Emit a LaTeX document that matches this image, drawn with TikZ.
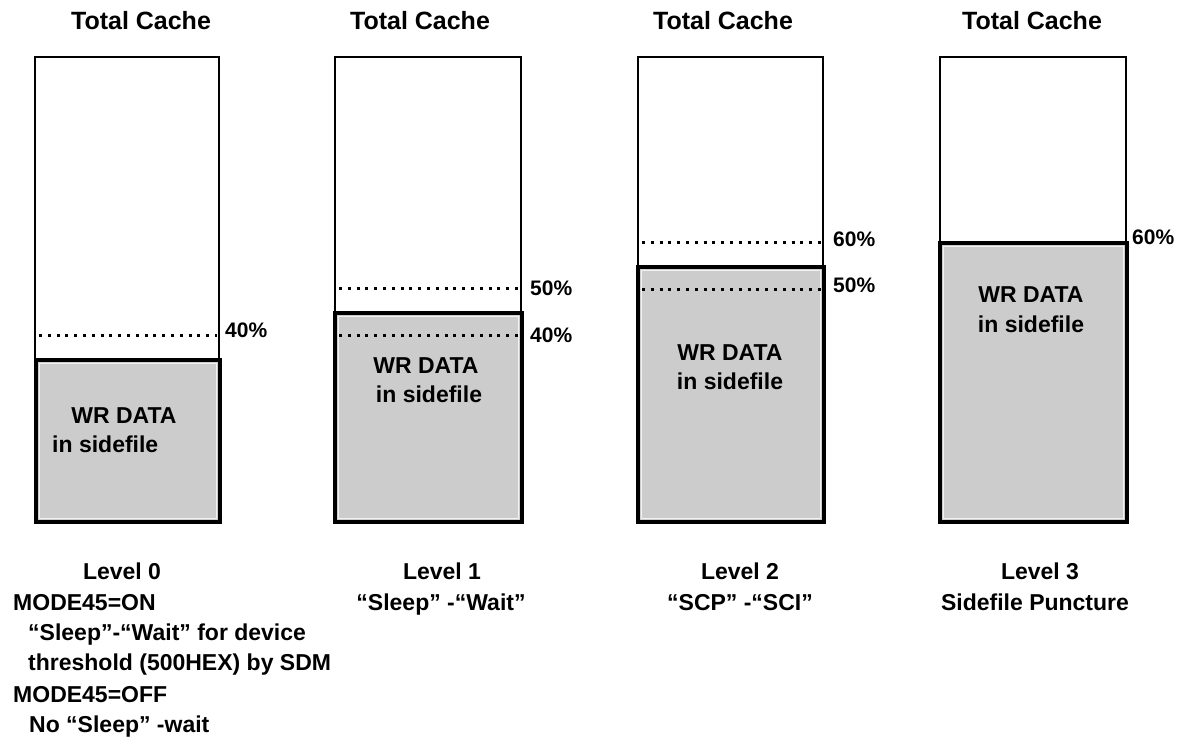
\documentclass[tikz,border=0pt]{standalone}
\usepackage{fontspec}
\setmainfont{Liberation Sans}
\begin{document}
\begin{tikzpicture}[x=1pt,y=-1pt,
  txt/.style={font=\fontsize{23}{27}\selectfont\bfseries, inner sep=0pt, anchor=base},
  ttl/.style={font=\fontsize{25}{29}\selectfont\bfseries, inner sep=0pt, anchor=base},
  lft/.style={txt, anchor=base west},
  pct/.style={font=\fontsize{21}{25}\selectfont\bfseries, inner sep=0pt, anchor=base west},
  cachebox/.style={draw=black, line width=2pt, fill=white},
  sidefile/.style={draw=black, line width=4.5pt, fill=black!20},
  hilite/.style={draw=black!5, line width=0.8pt},
  limit/.style={draw=black, line width=3pt, dash pattern=on 3pt off 5.8pt}]
\useasboundingbox (0,0) rectangle (1184,738);

% ---- Level 0 ----
\draw[cachebox] (35,57) rectangle (219,360);
\draw[sidefile] (36,360) rectangle (220,522);
\draw[hilite] (39.5,363.5) rectangle (216.5,518.5);
\draw[limit] (39,335) -- (217,335);
\node[ttl] (t0) at (141,30) {Total Cache};
\node[pct] (p0a) at (225,337) {40\%};
\node[txt] (w0) at (124,423) {WR DATA};
\node[lft] (s0) at (52,452) {in sidefile};
\node[txt] (l0) at (122,579) {Level 0};
\node[lft] (m0a) at (13,610) {MODE45=ON};
\node[lft] (m0b) at (28,640) {“Sleep”-“Wait” for device};
\node[lft] (m0c) at (28,670) {threshold (500HEX) by SDM};
\node[lft] (m0d) at (13,702) {MODE45=OFF};
\node[lft] (m0e) at (29,732) {No “Sleep” -wait};

% ---- Level 1 ----
\draw[cachebox] (335,57) rectangle (521,313);
\draw[sidefile] (335,313) rectangle (522,522);
\draw[hilite] (338.5,316.5) rectangle (518.5,518.5);
\draw[limit] (339,289) -- (519,289);
\draw[limit] (339,335) -- (519,335);
\node[ttl] (t1) at (420,30) {Total Cache};
\node[pct] (p1a) at (530,295) {50\%};
\node[pct] (p1b) at (530,342) {40\%};
\node[txt] (w1) at (426,373) {WR DATA};
\node[txt] (s1) at (429,402) {in sidefile};
\node[txt] (l1) at (442,579) {Level 1};
\node[txt] (c1) at (441,610) {“Sleep” -“Wait”};

% ---- Level 2 ----
\draw[cachebox] (638,57) rectangle (823,267);
\draw[sidefile] (638,267) rectangle (824,522);
\draw[hilite] (641.5,270.5) rectangle (820.5,518.5);
\draw[limit] (642,243) -- (821,243);
\draw[limit] (642,290) -- (821,290);
\node[ttl] (t2) at (723,30) {Total Cache};
\node[pct] (p2a) at (833,247) {60\%};
\node[pct] (p2b) at (833,293) {50\%};
\node[txt] (w2) at (730,360) {WR DATA};
\node[txt] (s2) at (730,389) {in sidefile};
\node[txt] (l2) at (740,579) {Level 2};
\node[txt] (c2) at (740,610) {“SCP” -“SCI”};

% ---- Level 3 ----
\draw[cachebox] (940,57) rectangle (1126,243);
\draw[sidefile] (940,243) rectangle (1127,522);
\draw[hilite] (943.5,246.5) rectangle (1123.5,518.5);
\node[ttl] (t3) at (1032,30) {Total Cache};
\node[pct] (p3a) at (1132,245) {60\%};
\node[txt] (w3) at (1031,302) {WR DATA};
\node[txt] (s3) at (1031,332) {in sidefile};
\node[txt] (l3) at (1040,579) {Level 3};
\node[txt] (c3) at (1035,610) {Sidefile Puncture};
\end{tikzpicture}
\end{document}
